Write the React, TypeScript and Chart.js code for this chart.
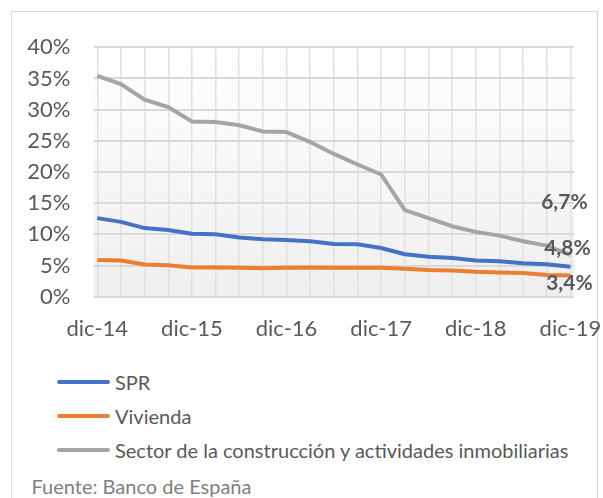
import React, { useEffect, useRef } from "react";
import { Chart, registerables } from "chart.js";

Chart.register(...registerables);

const categories = [
  "dic-14", "mar-15", "jun-15", "sep-15", "dic-15", "mar-16", "jun-16",
  "sep-16", "dic-16", "mar-17", "jun-17", "sep-17", "dic-17", "mar-18",
  "jun-18", "sep-18", "dic-18", "mar-19", "jun-19", "sep-19", "dic-19",
];
const sprValues = [12.6, 12.0, 11.0, 10.7, 10.1, 10.0, 9.5, 9.2, 9.1, 8.9, 8.45, 8.4, 7.8, 6.8, 6.4, 6.2, 5.8, 5.7, 5.35, 5.2, 4.8];
const viviendaValues = [5.9, 5.8, 5.15, 5.05, 4.7, 4.7, 4.65, 4.55, 4.65, 4.7, 4.65, 4.65, 4.65, 4.5, 4.3, 4.2, 4.0, 3.9, 3.8, 3.5, 3.4];
const construccionValues = [35.4, 34.1, 31.6, 30.4, 28.1, 28.0, 27.5, 26.5, 26.4, 24.8, 22.9, 21.2, 19.6, 13.9, 12.6, 11.3, 10.4, 9.8, 8.9, 8.2, 6.7];
const seriesNames = ["SPR", "Vivienda", "Sector de la construcción y actividades inmobiliarias"];
const seriesColors = ["#4472C4", "#ED7D31", "#A5A5A5"];
const endLabels = ["4,8%", "3,4%", "6,7%"];
const yTicks = [0, 5, 10, 15, 20, 25, 30, 35, 40];
const sourceText = "Fuente: Banco de España";

const FONT = "Lato, 'Open Sans', sans-serif";

const bgPlugin = {
  id: "plotBg",
  beforeDraw(chart: any) {
    const { ctx, chartArea } = chart;
    if (!chartArea) return;
    const g = ctx.createLinearGradient(0, chartArea.top, 0, chartArea.bottom);
    g.addColorStop(0, "#ffffff");
    g.addColorStop(1, "#efefef");
    ctx.save();
    ctx.fillStyle = g;
    ctx.fillRect(chartArea.left, chartArea.top, chartArea.right - chartArea.left, chartArea.bottom - chartArea.top);
    ctx.restore();
  },
};

// offsets of end labels relative to last point (style)
const labelOffsets = [
  { dx: -3, dy: -19 },
  { dx: -1, dy: 8 },
  { dx: -6, dy: -53 },
];

const endLabelPlugin = {
  id: "endLabels",
  afterDatasetsDraw(chart: any) {
    const { ctx } = chart;
    ctx.save();
    ctx.font = `bold 21px ${FONT}`;
    ctx.fillStyle = "#595959";
    ctx.textAlign = "center";
    ctx.textBaseline = "middle";
    chart.data.datasets.forEach((ds: any, i: number) => {
      const meta = chart.getDatasetMeta(i);
      const pt = meta.data[meta.data.length - 1];
      if (!pt) return;
      const o = labelOffsets[i];
      ctx.fillText(endLabels[i], pt.x + o.dx, pt.y + o.dy);
    });
    ctx.restore();
  },
};

export default function App() {
  const ref = useRef<HTMLCanvasElement | null>(null);

  useEffect(() => {
    if (!ref.current) return;
    const series = [sprValues, viviendaValues, construccionValues];
    const chart = new Chart(ref.current, {
      type: "line",
      data: {
        datasets: series.map((vals, i) => ({
          label: seriesNames[i],
          data: vals.map((v, j) => ({ x: j, y: v })),
          borderColor: seriesColors[i],
          backgroundColor: seriesColors[i],
          borderWidth: 4,
          pointRadius: 0,
          tension: 0,
          fill: false,
        })),
      },
      options: {
        animation: false,
        responsive: false,
        maintainAspectRatio: false,
        layout: { padding: { left: 0, right: 28.8, top: 47.3, bottom: 0 } },
        plugins: {
          legend: { display: false },
          tooltip: { enabled: false },
        },
        scales: {
          x: {
            type: "linear",
            min: -0.16,
            max: categories.length - 1 + 0.16,
            afterBuildTicks: (scale: any) => {
              scale.ticks = categories.map((_, i) => ({ value: i }));
            },
            afterFit: (scale: any) => {
              scale.height = 48.3;
              scale.paddingLeft = 0;
              scale.paddingRight = 0;
            },
            grid: { color: "#e0e0e0", lineWidth: 1.5, drawTicks: false },
            border: { display: false },
            ticks: {
              autoSkip: false,
              maxRotation: 0,
              padding: 19,
              color: "#595959",
              font: { family: FONT, size: 22 },
              callback: (v: any) => {
                const i = Math.round(Number(v));
                return i % 4 === 0 ? categories[i] : "";
              },
            },
          },
          y: {
            min: 0,
            max: 40,
            afterBuildTicks: (scale: any) => {
              scale.ticks = yTicks.map((v) => ({ value: v }));
            },
            afterFit: (scale: any) => {
              scale.width = 93.5;
            },
            grid: { color: "#d9d9d9", lineWidth: 2, drawTicks: false },
            border: { display: false },
            ticks: {
              padding: 23,
              color: "#595959",
              font: { family: FONT, size: 22 },
              callback: (v: any) => `${v}%`,
            },
          },
        },
      },
      plugins: [bgPlugin, endLabelPlugin],
    } as any);
    return () => chart.destroy();
  }, []);

  return (
    <div style={{ position: "fixed", left: 0, top: 0, width: 603, height: 498, overflow: "hidden", background: "#fff", fontFamily: FONT }}>
      <div style={{ position: "absolute", left: 11, top: 11, width: 587, height: 520, border: "1.5px solid #d9d9d9", boxSizing: "border-box" }} />
      <canvas ref={ref} width={603} height={345} style={{ position: "absolute", left: 0, top: 0, width: 603, height: 345 }} />
      {seriesNames.map((name, i) => (
        <div key={name} style={{ position: "absolute", left: 57, top: 381.7 + i * 34.3 - 12, height: 24, display: "flex", alignItems: "center", whiteSpace: "nowrap" }}>
          <div style={{ width: 53, height: 4, background: seriesColors[i], borderRadius: 2, marginRight: 5 }} />
          <span style={{ fontSize: 20, color: "#595959", lineHeight: "24px" }}>{name}</span>
        </div>
      ))}
      <div style={{ position: "absolute", left: 31.5, top: 485.7 - 12, height: 24, lineHeight: "24px", fontSize: 20, color: "#808080", whiteSpace: "nowrap" }}>{sourceText}</div>
    </div>
  );
}
